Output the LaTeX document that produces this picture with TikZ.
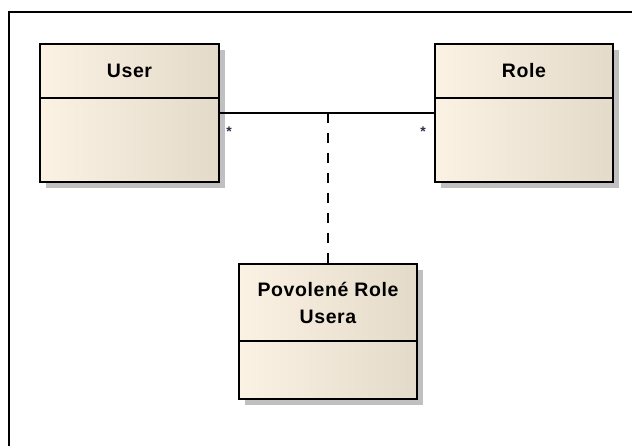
\documentclass[tikz,border=0pt]{standalone}
\usepackage{fontspec}
\setmainfont{Liberation Sans}
\usetikzlibrary{shadows}
\definecolor{boxL}{HTML}{FCF2E4}
\definecolor{boxR}{HTML}{E4DAC9}
\definecolor{shade}{HTML}{C0C0C0}
\definecolor{mult}{HTML}{2C3048}
\begin{document}
\begin{tikzpicture}[x=1pt,y=-1pt,
  classbox/.style={draw=black, line width=2pt, left color=boxL, right color=boxR,
    inner sep=0pt, anchor=north west,
    drop shadow={shadow xshift=6pt, shadow yshift=-6pt, fill=shade, opacity=1}},
  divider/.style={line width=2pt},
  title/.style={font=\bfseries\fontsize{19.5}{27}\selectfont\addfontfeatures{LetterSpace=3}, align=center, inner sep=0pt},
  assocline/.style={line width=1.6pt},
  dashline/.style={line width=1.6pt, dash pattern=on 10pt off 10pt},
  multlabel/.style={font=\bfseries\fontsize{14}{14}\selectfont, text=mult, inner sep=0pt, anchor=base},
  frame/.style={line width=2pt}
]
\useasboundingbox (0,0) rectangle (632,446);
\fill[white] (0,0) rectangle (632,446);
\draw[frame] (8.5,446) -- (8.5,12.5) -- (632,12.5);

% classes
\node[classbox, minimum width=179pt, minimum height=138pt] (user) at (39,43) {};
\node[classbox, minimum width=178pt, minimum height=138pt] (role) at (434,43) {};
\node[classbox, minimum width=178pt, minimum height=135pt] (assoc) at (238,263) {};

% compartments
\draw[divider] ([yshift=-55pt]user.north west) -- ([yshift=-55pt]user.north east);
\draw[divider] ([yshift=-55pt]role.north west) -- ([yshift=-55pt]role.north east);
\draw[divider] ([yshift=-78pt]assoc.north west) -- ([yshift=-78pt]assoc.north east);

% titles
\node[title] (usert) at ([yshift=-28pt]user.north) {User};
\node[title] (rolet) at ([yshift=-28pt]role.north) {Role};
\node[title] (assoct) at ([yshift=-40pt]assoc.north) {Povolené Role\\Usera};

% association
\draw[assocline] (user.east) -- (role.west);
\coordinate (mid) at (assoc.north |- user.east);
\draw[dashline] (mid) -- (assoc.north);

% multiplicities
\node[multlabel] (m1) at (229,137) {*};
\node[multlabel] (m2) at (423,137) {*};
\end{tikzpicture}
\end{document}
